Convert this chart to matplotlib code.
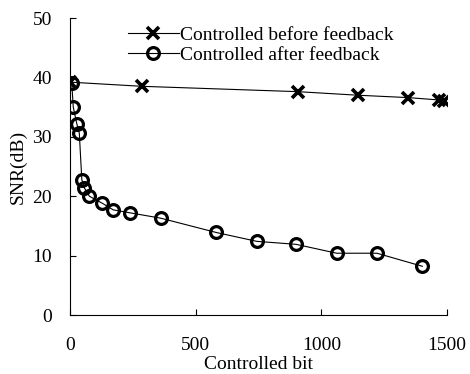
import matplotlib
matplotlib.use("Agg")
import matplotlib.pyplot as plt

plt.rcParams['font.family'] = ['Liberation Serif', 'DejaVu Serif']
plt.rcParams['mathtext.fontset'] = 'stix'

# SNR of the controlled bits before feedback
before_bits = [0, 286, 906, 1145, 1345, 1468, 1490]
before_snr = [39.2, 38.5, 37.6, 37.0, 36.6, 36.2, 36.1]

# SNR of the controlled bits after feedback
after_bits = [7, 13, 27, 37, 47, 57, 77, 129, 172, 239, 361, 581, 743, 899, 1061, 1221, 1402]
after_snr = [39.0, 35.0, 32.2, 30.6, 22.8, 21.4, 20.0, 18.8, 17.7, 17.2, 16.3, 13.9, 12.4, 11.9, 10.4, 10.4, 8.2]

x_ticks = [0, 500, 1000, 1500]
y_ticks = [0, 10, 20, 30, 40, 50]

fig = plt.figure(figsize=(4.7, 3.74), dpi=100)
ax = fig.add_axes([70 / 470, 59 / 374, 377 / 470, 297 / 374])

ax.plot(before_bits, before_snr, color='black', lw=0.8, marker='x',
        markersize=9, markeredgewidth=2.6, label='Controlled before feedback')
ax.plot(after_bits, after_snr, color='black', lw=0.8, marker='o',
        markersize=8.5, markeredgewidth=2.3, markerfacecolor='none',
        label='Controlled after feedback')

ax.set_xlim(0, 1500)
ax.set_ylim(0, 50)
ax.set_xticks(x_ticks)
ax.set_yticks(y_ticks)
ax.tick_params(axis='both', direction='in', length=4, width=0.8, labelsize=14)
ax.tick_params(axis='x', pad=16)
ax.tick_params(axis='y', pad=13)

for side in ('top', 'right'):
    ax.spines[side].set_visible(False)
for side in ('left', 'bottom'):
    ax.spines[side].set_linewidth(0.8)

ax.set_xlabel('Controlled bit', fontsize=14, labelpad=1.5)
ax.set_ylabel('SNR(dB)', fontsize=14, labelpad=4)

ax.legend(loc='upper left', bbox_to_anchor=(128 / 470, 1 - 26 / 374),
          bbox_transform=fig.transFigure, frameon=False, fontsize=14,
          handlelength=2.6, handletextpad=0.1, borderpad=0, borderaxespad=0,
          labelspacing=0.12)

fig.savefig('out.png', dpi=100)
